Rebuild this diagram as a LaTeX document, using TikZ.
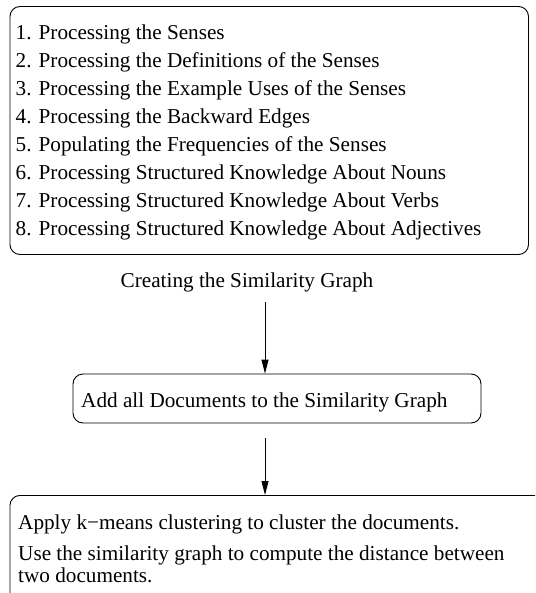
\documentclass[tikz,border=0pt]{standalone}
\usepackage{fontspec}
\setmainfont{Liberation Serif}
\usetikzlibrary{arrows.meta}
\begin{document}
\begin{tikzpicture}[x=1pt,y=-1pt,
  txt/.style={inner sep=0pt, anchor=base west, font=\fontsize{21.2}{25}\selectfont},
  frame/.style={draw, line width=0.9pt, rounded corners=10pt, inner sep=0pt},
  conn/.style={draw, line width=0.9pt, -{Triangle[length=14pt,width=7pt]}}]
\useasboundingbox (0,0) rectangle (535,593);
\clip (0,0) rectangle (535,593);
% top box with the list of steps
\node[frame, minimum width=518.5pt, minimum height=248pt] (steps) at (269.25,130.5) {};
\foreach \t [count=\i] in {1. Processing the Senses,
  2. Processing the Definitions of the Senses,
  3. Processing the Example Uses of the Senses,
  4. Processing the Backward Edges,
  5. Populating the Frequencies of the Senses,
  6. Processing Structured Knowledge About Nouns,
  7. Processing Structured Knowledge About Verbs,
  8. Processing Structured Knowledge About Adjectives}
  \node[txt] (l\i) at (15.5,{40+27.9*(\i-1)}) {\t};
% title
\node[txt] (title) at (120.5,287) {Creating the Similarity Graph};
\coordinate (a1) at (265,302);
% middle box
\node[frame, minimum width=408pt, minimum height=49pt] (mid) at (277,398.5) {};
\node[txt] (midtxt) at (81,407) {Add all Documents to the Similarity Graph};
\draw[conn] (a1) -- (a1 |- mid.north);
\coordinate (a2) at (265,438);
% bottom box (cut off by the picture border)
\node[frame, minimum width=560pt, minimum height=200pt, anchor=north west] (bot) at (9.5,495) {};
\draw[conn] (a2) -- (a2 |- bot.north);
\node[txt] (b1) at (18,529) {Apply k−means clustering to cluster the documents.};
\node[txt] (b2) at (18,560) {Use the similarity graph to compute the distance between};
\node[txt] (b3) at (18,582) {two documents.};
\end{tikzpicture}
\end{document}
